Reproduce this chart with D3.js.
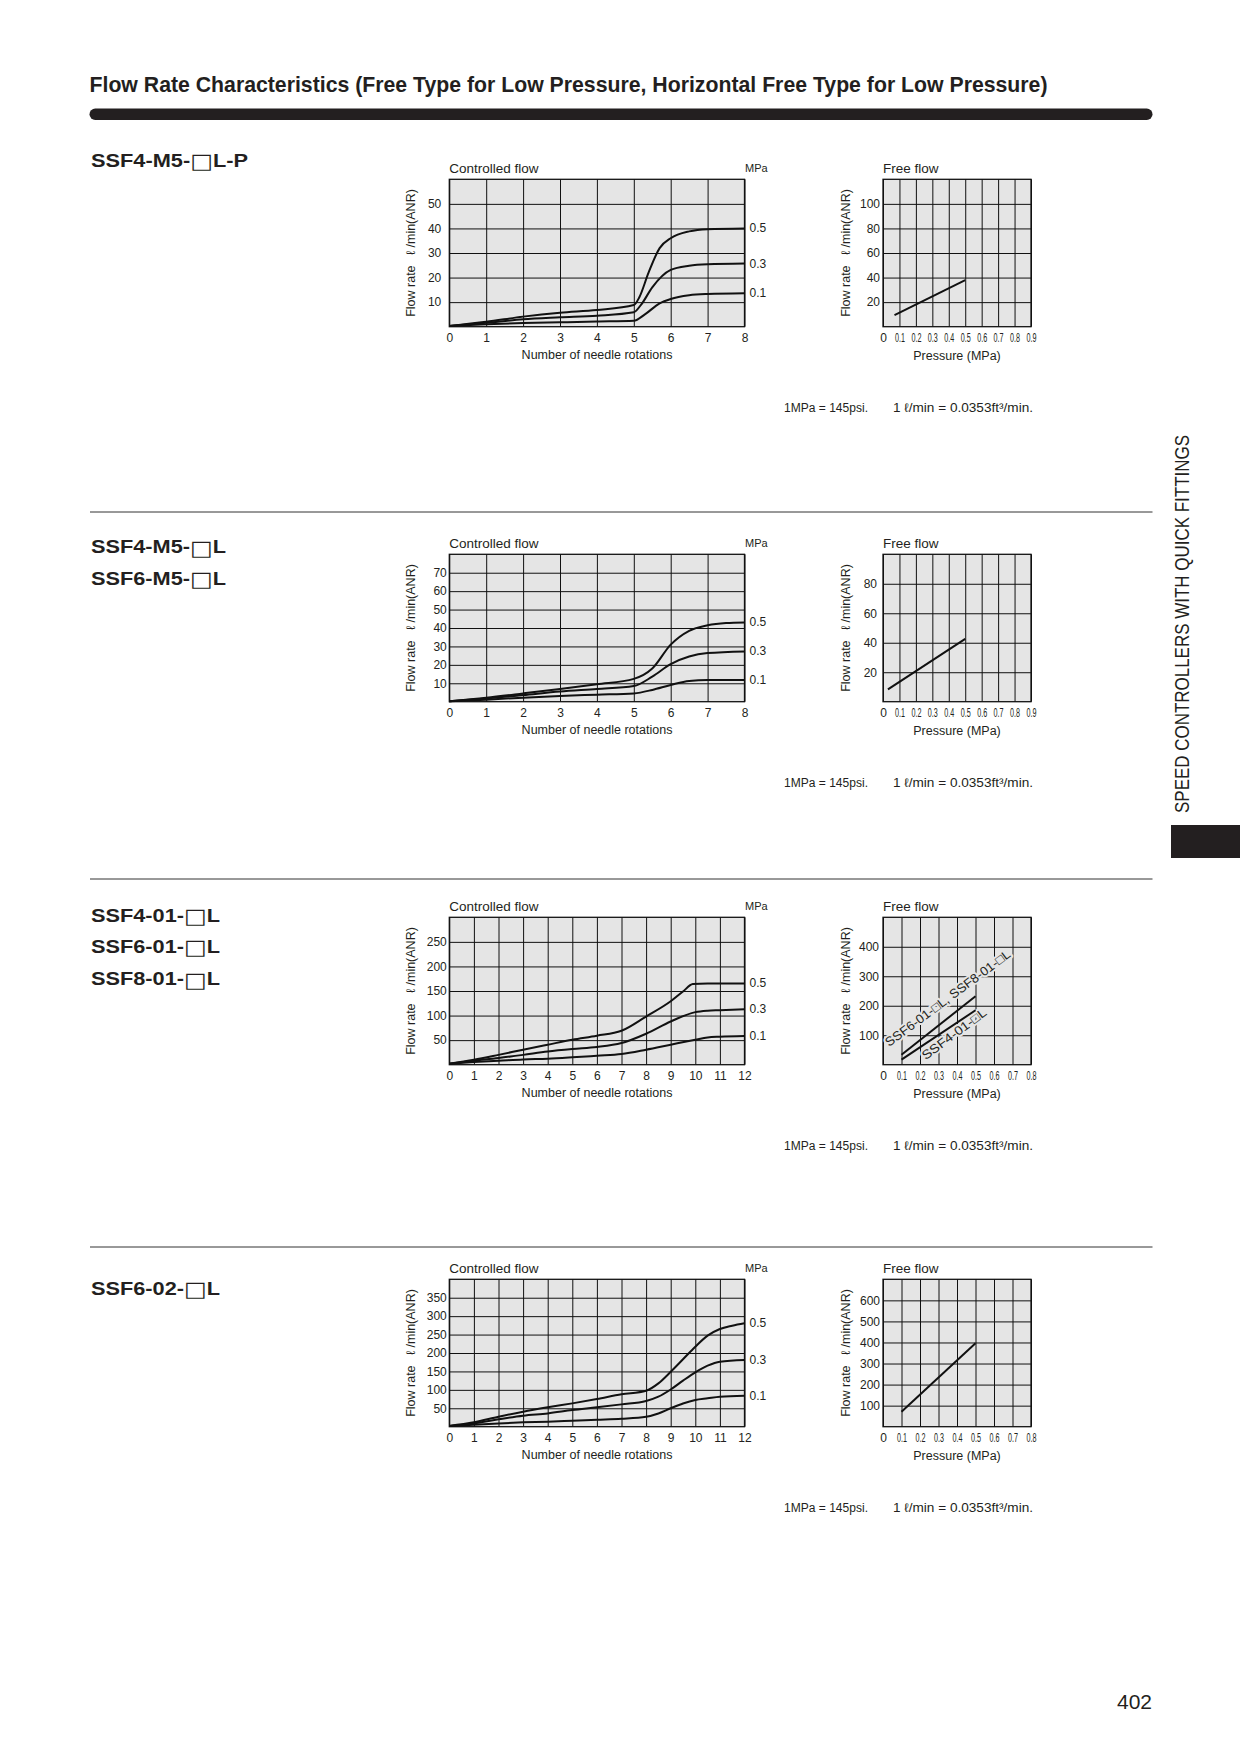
<!DOCTYPE html>
<html lang="en">
<head>
<meta charset="utf-8">
<title>Flow Rate Characteristics</title>
<script src="https://d3js.org/d3.v7.min.js"></script>
<style type="text/css">
body { margin: 0; background: #fff; }
svg { display: block; }
text { font-family: "Liberation Sans", Arial, sans-serif; fill: #231f20; }
</style>
</head>
<body>
<div id="page"></div>
<script>
// ---- data ----

// block 1: SSF4-M5-□L-P
var b1Rot = [0, 1, 2, 3, 4, 5, 6, 7, 8];
var b1Flow = [10, 20, 30, 40, 50];
var b1P05 = [[0,0.3],[1,2],[2,4.1],[3,5.7],[4,6.8],[5,8.8],[5.15,12],[5.4,22],[5.7,32],[6,36],[6.5,38.8],[7,39.7],[8,40]];
var b1P03 = [[0,0.3],[1,1.6],[2,3],[3,3.8],[4,4.5],[5,5.9],[5.2,9],[5.5,16],[6,23.1],[6.5,24.8],[7,25.4],[8,25.7]];
var b1P01 = [[0,0.3],[1,1],[2,1.5],[3,1.8],[4,2.1],[5,2.4],[5.3,5],[5.7,9.5],[6,11.3],[6.5,12.8],[7,13.3],[8,13.6]];
var b1Press = ["0","0.1","0.2","0.3","0.4","0.5","0.6","0.7","0.8","0.9"];
var b1FreeFlow = [20, 40, 60, 80, 100];
var b1Free = [[0.07,9.5],[0.5,38]];

// block 2: SSF4-M5-□L, SSF6-M5-□L
var b2Rot = [0, 1, 2, 3, 4, 5, 6, 7, 8];
var b2Flow = [10, 20, 30, 40, 50, 60, 70];
var b2P05 = [[0,0.3],[1,2.2],[2,4.5],[3,6.9],[4,9.5],[5,12.4],[5.5,18],[6,31],[6.5,38.5],[7,41.5],[7.5,42.7],[8,43]];
var b2P03 = [[0,0.3],[1,1.8],[2,3.6],[3,5.5],[4,6.9],[5,8.5],[5.5,13.6],[6,20.4],[6.5,24.5],[7,26.4],[8,27.3]];
var b2P01 = [[0,0.3],[1,1.1],[2,2.2],[3,3.1],[4,3.8],[5,4.5],[5.5,6.4],[6,9.1],[6.5,11.3],[7,11.8],[8,11.8]];
var b2Press = ["0","0.1","0.2","0.3","0.4","0.5","0.6","0.7","0.8","0.9"];
var b2FreeFlow = [20, 40, 60, 80];
var b2Free = [[0.03,8.4],[0.5,42.6]];

// block 3: SSF4-01-□L, SSF6-01-□L, SSF8-01-□L
var b3Rot = [0, 1, 2, 3, 4, 5, 6, 7, 8, 9, 10, 11, 12];
var b3Flow = [50, 100, 150, 200, 250];
var b3P05 = [[0,2],[1,10],[2,20],[3,30.5],[4,40.7],[5,50.8],[6,59],[7,69],[8,98],[9,129],[9.5,149],[9.9,164],[10.5,165.2],[12,165.4]];
var b3P03 = [[0,2],[1,8],[2,13.5],[3,20],[4,27],[5,32],[6,36],[7,44],[8,63],[9,88],[10,107],[10.5,110],[11,111],[12,113]];
var b3P01 = [[0,2],[1,5.4],[2,8],[3,10.8],[4,12.2],[5,15],[6,18.3],[7,21.7],[8,30.5],[9,40.7],[10,50.8],[10.5,55.6],[11,57],[12,58.3]];
var b3Press = ["0","0.1","0.2","0.3","0.4","0.5","0.6","0.7","0.8"];
var b3FreeFlow = [100, 200, 300, 400];
var b3Free68 = [[0.1,34],[0.5,232]];
var b3Free4 = [[0.1,17],[0.5,184.6]];

// block 4: SSF6-02-□L
var b4Rot = [0, 1, 2, 3, 4, 5, 6, 7, 8, 9, 10, 11, 12];
var b4Flow = [50, 100, 150, 200, 250, 300, 350];
var b4P05 = [[0,2],[1,11.8],[2,27],[3,40.7],[4,52.5],[5,63.3],[6,75],[7,87.8],[8,97.7],[8.5,117.6],[9,149],[9.5,183],[10,217],[10.5,247],[11,265],[11.5,274],[12,280.5]];
var b4P03 = [[0,2],[1,9],[2,20],[3,30],[4,36],[5,45],[6,52.5],[7,60.6],[8,69.7],[8.5,81.4],[9,101],[9.5,125],[10,147.5],[10.5,165.6],[11,176.5],[12,181]];
var b4P01 = [[0,2],[1,5.4],[2,9],[3,11.8],[4,13.6],[5,16.3],[6,19],[7,21.7],[8,27],[8.5,36],[9,50],[9.5,63],[10,72.4],[10.5,77],[11,81.4],[12,84]];
var b4Press = ["0","0.1","0.2","0.3","0.4","0.5","0.6","0.7","0.8"];
var b4FreeFlow = [100, 200, 300, 400, 500, 600];
var b4Free = [[0.1,71],[0.5,396]];

var pressLabels = ["0.5", "0.3", "0.1"];

// ---- page ----
var W = 1240, H = 1754;
var svg = d3.select("#page").append("svg")
    .attr("width", W)
    .attr("height", H);

svg.append("rect").attr("width", W).attr("height", H).attr("fill", "#fff");

// heading + thick bar
svg.append("text")
    .attr("x", 89.5).attr("y", 91.5)
    .attr("font-size", 21.5)
    .attr("font-weight", "bold")
    .attr("textLength", 958)
    .attr("lengthAdjust", "spacingAndGlyphs")
    .text("Flow Rate Characteristics (Free Type for Low Pressure, Horizontal Free Type for Low Pressure)");

svg.append("rect")
    .attr("x", 89.5).attr("y", 108.5)
    .attr("width", 1063).attr("height", 11.5)
    .attr("rx", 5.75)
    .attr("fill", "#231f20");

// side tab
svg.append("text")
    .attr("transform", "translate(1189,813) rotate(-90)")
    .attr("font-size", 21)
    .attr("textLength", 378)
    .attr("lengthAdjust", "spacingAndGlyphs")
    .text("SPEED CONTROLLERS WITH QUICK FITTINGS");
svg.append("rect")
    .attr("x", 1171).attr("y", 825)
    .attr("width", 69).attr("height", 33)
    .attr("fill", "#231f20");

// page number
svg.append("text")
    .attr("x", 1152).attr("y", 1709)
    .attr("text-anchor", "end")
    .attr("font-size", 21)
    .text("402");

// separators
[512, 879, 1247].forEach(function(yy) {
  svg.append("line")
      .attr("x1", 90).attr("x2", 1152.5)
      .attr("y1", yy).attr("y2", yy)
      .attr("stroke", "#333").attr("stroke-width", 1);
});

// ---- chart helpers ----
var PH = 147.4;

function frame(g, x, y, gridX, gridY) {
  var x0 = x.range()[0], x1 = x.range()[1];
  var y0 = y.range()[0], y1 = y.range()[1];
  g.append("rect")
      .attr("x", x0).attr("y", y1)
      .attr("width", x1 - x0).attr("height", y0 - y1)
      .attr("fill", "#e5e5e5");

  // grid via axes
  var gx = g.append("g")
      .attr("transform", "translate(0," + y0 + ")")
      .call(d3.axisBottom(x).tickValues(gridX).tickSize(-(y0 - y1)).tickFormat(""));
  var gy = g.append("g")
      .attr("transform", "translate(" + x0 + ",0)")
      .call(d3.axisLeft(y).tickValues(gridY).tickSize(-(x1 - x0)).tickFormat(""));
  [gx, gy].forEach(function(a) {
    a.select(".domain").remove();
    a.selectAll("line").attr("stroke", "#111").attr("stroke-width", 1);
  });
}

function border(g, x, y) {
  var x0 = x.range()[0], x1 = x.range()[1];
  var y0 = y.range()[0], y1 = y.range()[1];
  g.append("rect")
      .attr("x", x0).attr("y", y1)
      .attr("width", x1 - x0).attr("height", y0 - y1)
      .attr("fill", "none")
      .attr("stroke", "#111").attr("stroke-width", 1.3);
}

function tickLabels(g, x, y, xTicks, xFmt, yTicks, yPad, squeeze) {
  var y0 = y.range()[0];
  var x0 = x.range()[0];
  var ax = g.append("g")
      .attr("transform", "translate(0," + y0 + ")")
      .call(d3.axisBottom(x).tickValues(xTicks).tickSize(0).tickPadding(6.5)
        .tickFormat(function(d, i) { return xFmt ? xFmt[i] : d; }));
  var ay = g.append("g")
      .attr("transform", "translate(" + x0 + ",0)")
      .call(d3.axisLeft(y).tickValues(yTicks).tickSize(0).tickPadding(yPad));
  [ax, ay].forEach(function(a) {
    a.select(".domain").remove();
    a.attr("font-family", null).attr("font-size", null);
    a.selectAll("text").attr("font-size", 12).attr("fill", "#231f20");
  });
  if (squeeze) {
    ax.selectAll("text").each(function() {
      var t = d3.select(this);
      if (t.text().length > 1) t.attr("textLength", 10).attr("lengthAdjust", "spacingAndGlyphs");
    });
  }
}

function yTitle(g, xx, yc) {
  g.append("text")
      .attr("transform", "translate(" + xx + "," + yc + ") rotate(-90)")
      .attr("text-anchor", "middle")
      .attr("font-size", 12.5)
      .attr("xml:space", "preserve")
      .style("white-space", "pre")
      .text("Flow rate   \u2113 /min(ANR)");
}

var line = function(x, y, curve) {
  return d3.line()
      .x(function(d) { return x(d[0]); })
      .y(function(d) { return y(d[1]); })
      .curve(curve || d3.curveLinear);
};

function controlled(top, rot, flow, yMax, yStep, series, yPad) {
  var g = svg.append("g");
  var x = d3.scaleLinear().domain([0, d3.max(rot)]).range([449.3, 744.5]);
  var y = d3.scaleLinear().domain([0, yMax]).range([top + PH, top]);
  frame(g, x, y, rot, d3.range(yStep, yMax, yStep));
  border(g, x, y);

  series.forEach(function(s, i) {
    g.append("path")
        .datum(s)
        .attr("d", line(x, y, d3.curveMonotoneX))
        .attr("fill", "none")
        .attr("stroke", "#111")
        .attr("stroke-width", 2);
    g.append("text")
        .attr("x", 749.5)
        .attr("y", y(s[s.length - 1][1]) + 4)
        .attr("font-size", 12)
        .text(pressLabels[i]);
  });

  tickLabels(g, x, y, rot, null, flow, yPad, false);

  g.append("text").attr("x", 449.3).attr("y", top - 6.6).attr("font-size", 13.5).text("Controlled flow");
  g.append("text").attr("x", 745).attr("y", top - 7.6).attr("font-size", 11).text("MPa");
  g.append("text").attr("x", 597).attr("y", top + PH + 32.6)
      .attr("text-anchor", "middle").attr("font-size", 12.5).text("Number of needle rotations");
  yTitle(g, 415, top + PH / 2);
}

function free(top, press, flow, yMax, yStep, lines, yPad) {
  var g = svg.append("g");
  var pv = press.map(function(p) { return +p; });
  var x = d3.scaleLinear().domain([0, d3.max(pv)]).range([883, 1031]);
  var y = d3.scaleLinear().domain([0, yMax]).range([top + PH, top]);
  frame(g, x, y, pv, d3.range(yStep, yMax, yStep));
  border(g, x, y);
  lines.forEach(function(l) {
    g.append("path")
        .datum(l)
        .attr("d", line(x, y))
        .attr("fill", "none")
        .attr("stroke", "#111")
        .attr("stroke-width", 2);
  });
  tickLabels(g, x, y, pv, press, flow, yPad, true);
  g.append("text").attr("x", 883).attr("y", top - 6.6).attr("font-size", 13.5).text("Free flow");
  g.append("text").attr("x", 957).attr("y", top + PH + 33)
      .attr("text-anchor", "middle").attr("font-size", 12.5).text("Pressure (MPa)");
  yTitle(g, 850, top + PH / 2);
  return {g: g, x: x, y: y};
}

function footnote(top) {
  svg.append("text").attr("x", 784).attr("y", top + 233).attr("font-size", 12.5)
      .attr("textLength", 84).attr("lengthAdjust", "spacingAndGlyphs")
      .text("1MPa = 145psi.");
  svg.append("text").attr("x", 893).attr("y", top + 233).attr("font-size", 12.5)
      .attr("textLength", 140).attr("lengthAdjust", "spacingAndGlyphs")
      .text("1 \u2113/min = 0.0353ft\u00b3/min.");
}

function models(names, ys, lens) {
  names.forEach(function(n, i) {
    var parts = n.split("\u25a1");
    var t = svg.append("text")
        .attr("x", 91).attr("y", ys[i])
        .attr("font-size", 19)
        .attr("font-weight", "bold")
        .attr("textLength", lens[i])
        .attr("lengthAdjust", "spacingAndGlyphs");
    t.append("tspan").text(parts[0]);
    t.append("tspan")
        .attr("font-family", "DejaVu Sans")
        .attr("font-weight", "normal")
        .attr("font-size", 21)
        .attr("dy", 1.5)
        .text("\u25a1");
    t.append("tspan").attr("dy", -1.5).text(parts[1]);
  });
}

// ---- block 1 ----
models(["SSF4-M5-\u25a1L-P"], [166.6], [157]);
controlled(179.3, b1Rot, b1Flow, 60, 10, [b1P05, b1P03, b1P01], 8);
free(179.3, b1Press, b1FreeFlow, 120, 20, [b1Free], 3);
footnote(179.3);

// ---- block 2 ----
models(["SSF4-M5-\u25a1L", "SSF6-M5-\u25a1L"], [553.4, 584.7], [135, 135]);
controlled(554.3, b2Rot, b2Flow, 80, 10, [b2P05, b2P03, b2P01], 2.5);
free(554.3, b2Press, b2FreeFlow, 100, 20, [b2Free], 6);
footnote(554.3);

// ---- block 3 ----
models(["SSF4-01-\u25a1L", "SSF6-01-\u25a1L", "SSF8-01-\u25a1L"], [921.5, 952.8, 985], [129, 129, 129]);
controlled(917.3, b3Rot, b3Flow, 300, 50, [b3P05, b3P03, b3P01], 2.5);
var f3 = free(917.3, b3Press, b3FreeFlow, 500, 100, [], 4);
// labels along the lines, with a grey halo that breaks the grid
[["SSF6-01-\u25a1L, SSF8-01-\u25a1L", 0.033, 60, 152.5], ["SSF4-01-\u25a1L", 0.231, 15, 77]].forEach(function(a) {
  f3.g.append("text")
      .attr("transform", "translate(" + f3.x(a[1]) + "," + f3.y(a[2]) + ") rotate(-36.6)")
      .attr("font-size", 12.5)
      .attr("textLength", a[3])
      .attr("lengthAdjust", "spacingAndGlyphs")
      .attr("stroke", "#e5e5e5").attr("stroke-width", 4)
      .attr("stroke-linejoin", "round")
      .attr("paint-order", "stroke")
      .text(a[0]);
});
[b3Free68, b3Free4].forEach(function(l) {
  f3.g.append("path")
      .datum(l)
      .attr("d", line(f3.x, f3.y))
      .attr("fill", "none")
      .attr("stroke", "#111")
      .attr("stroke-width", 2);
});
footnote(917.3);

// ---- block 4 ----
models(["SSF6-02-\u25a1L"], [1294.6], [129]);
controlled(1279.3, b4Rot, b4Flow, 400, 50, [b4P05, b4P03, b4P01], 2.5);
free(1279.3, b4Press, b4FreeFlow, 700, 100, [b4Free], 3);
footnote(1279.3);
</script>
</body>
</html>
